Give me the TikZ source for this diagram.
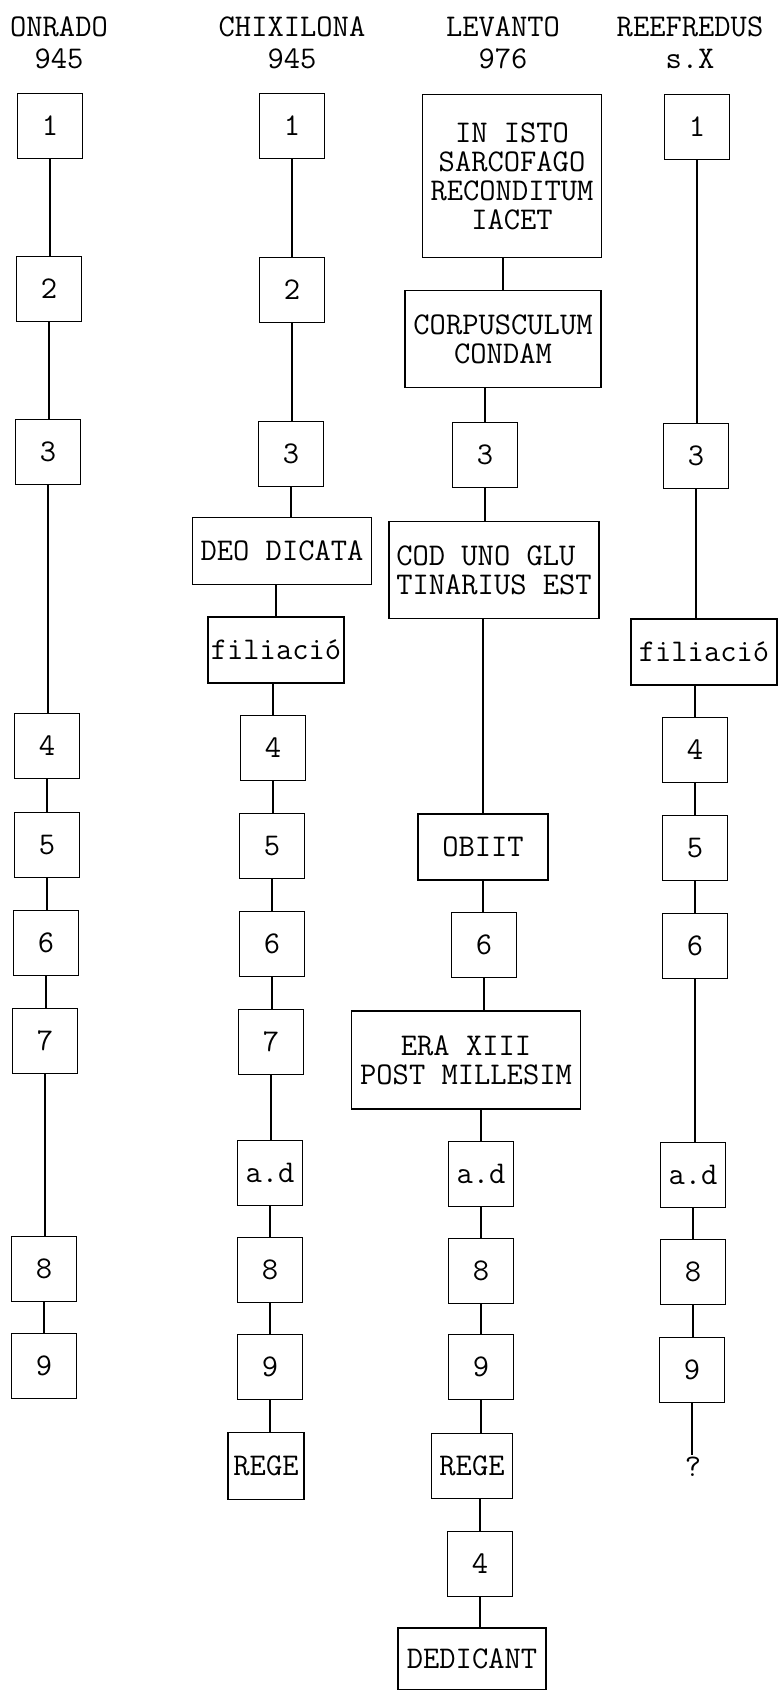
\documentclass[tikz,border=0pt]{standalone}
\usetikzlibrary{positioning}
\newcommand{\boxfont}{\ttfamily\fontsize{18}{16.5}\selectfont}
\newcommand{\headfont}{\ttfamily\fontsize{18}{18}\selectfont}
\tikzset{
  link/.style={line width=0.8pt},
  numbox/.style={draw,line width=0.8pt,minimum width=1.3cm,minimum height=1.3cm,
    inner sep=0pt,font=\boxfont},
  wordbox/.style={draw,line width=0.8pt,align=center,inner sep=0pt,font=\boxfont},
  heading/.style={align=center,inner sep=0pt,font=\headfont}
}
\begin{document}
\begin{tikzpicture}[x=0.02cm,y=-0.02cm]
  \useasboundingbox (0,0) rectangle (778,1690);
  % headings
  \node[heading] (hA) at (59,43) {ONRADO\\945};
  \node[heading] (hB) at (292,43) {CHIXILONA\\945};
  \node[heading] (hC) at (503,43) {LEVANTO\\976};
  \node[heading] (hD) at (690,43) {REEFREDUS\\s.X};
  % ONRADO
  \node[numbox] (a1) at (50,126) {1};
  \node[numbox] (a2) at (49,289) {2};
  \node[numbox] (a3) at (48,452) {3};
  \node[numbox] (a4) at (47,746) {4};
  \node[numbox] (a5) at (47,845) {5};
  \node[numbox] (a6) at (46,943) {6};
  \node[numbox] (a7) at (45,1041) {7};
  \node[numbox] (a8) at (44,1269) {8};
  \node[numbox] (a9) at (44,1366) {9};
  % CHIXILONA
  \node[numbox] (b1) at (292,126) {1};
  \node[numbox] (b2) at (292,290) {2};
  \node[numbox] (b3) at (291,454) {3};
  \node[wordbox,minimum width=3.58cm,minimum height=1.34cm] (bdeo) at (282,551) {DEO DICATA};
  \node[wordbox,minimum width=2.72cm,minimum height=1.32cm] (bfil) at (276,650) {filiació};
  \node[numbox] (b4) at (273,748) {4};
  \node[numbox] (b5) at (272,846) {5};
  \node[numbox] (b6) at (272,944) {6};
  \node[numbox] (b7) at (271,1042) {7};
  \node[numbox] (bad) at (270,1173) {a.d};
  \node[numbox] (b8) at (270,1270) {8};
  \node[numbox] (b9) at (270,1367) {9};
  \node[wordbox,minimum width=1.52cm,minimum height=1.34cm] (brege) at (266,1466) {REGE};
  % LEVANTO
  \node[wordbox,minimum width=3.58cm,minimum height=3.26cm] (c1) at (512,176)
    {IN ISTO\\SARCOFAGO\\RECONDITUM\\IACET};
  \node[wordbox,minimum width=3.92cm,minimum height=1.94cm] (c2) at (503,339)
    {CORPUSCULUM\\CONDAM};
  \node[numbox] (c3) at (485,455) {3};
  \node[wordbox,align=left,minimum width=4.2cm,minimum height=1.94cm] (c4) at (494,570)
    {COD UNO GLU\\TINARIUS EST};
  \node[wordbox,minimum width=2.6cm,minimum height=1.32cm] (cob) at (483,847) {OBIIT};
  \node[numbox] (c6) at (484,945) {6};
  \node[wordbox,minimum width=4.58cm,minimum height=1.96cm] (cera) at (466,1060)
    {ERA XIII\\POST MILLESIM};
  \node[numbox] (cad) at (481,1174) {a.d};
  \node[numbox] (c8) at (481,1271) {8};
  \node[numbox] (c9) at (481,1367) {9};
  \node[wordbox,minimum width=1.62cm,minimum height=1.3cm] (crege) at (472,1466) {REGE};
  \node[numbox] (c4b) at (480,1564) {4};
  \node[wordbox,minimum width=2.96cm,minimum height=1.24cm] (cded) at (472,1659) {DEDICANT};
  % REEFREDUS
  \node[numbox] (d1) at (697,127) {1};
  \node[numbox] (d3) at (696,456) {3};
  \node[wordbox,minimum width=2.92cm,minimum height=1.32cm] (dfil) at (704,652) {filiació};
  \node[numbox] (d4) at (695,750) {4};
  \node[numbox] (d5) at (695,848) {5};
  \node[numbox] (d6) at (695,946) {6};
  \node[numbox] (dad) at (693,1175) {a.d};
  \node[numbox] (d8) at (693,1272) {8};
  \node[numbox] (d9) at (692,1370) {9};
  \node[inner sep=1pt,font=\boxfont] (dq) at (693,1467) {?};
  % connectors
  \foreach \u/\v in {a1/a2,a2/a3,a3/a4,a4/a5,a5/a6,a6/a7,a7/a8,a8/a9,
      b1/b2,b2/b3,b3/bdeo,b4/b5,b5/b6,b6/b7,b7/bad,bad/b8,b8/b9,b9/brege,
      c3/c4,cob/c6,c6/cera,cad/c8,c8/c9,c9/crege,c4b/cded,
      d1/d3,d3/dfil,d4/d5,d5/d6,d6/dad,dad/d8,d8/d9,d9/dq}
    \draw[link] (\u.south) -- (\u.south |- \v.north);
  \foreach \u/\v in {bdeo/bfil,bfil/b4,c1/c2,c2/c3,c4/cob,cera/cad,crege/c4b,dfil/d4}
    \draw[link] (\v.north |- \u.south) -- (\v.north);
\end{tikzpicture}
\end{document}
